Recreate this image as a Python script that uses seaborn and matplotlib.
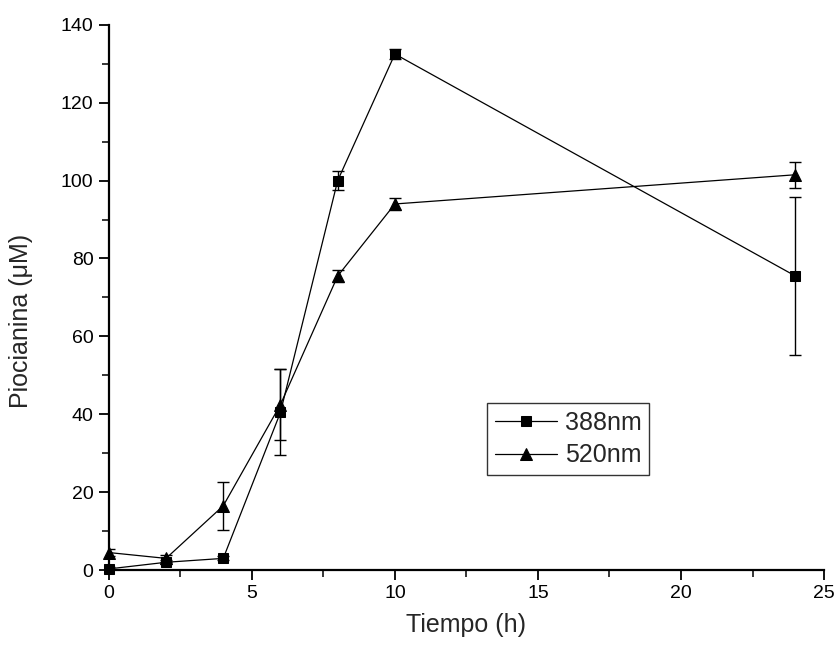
import matplotlib
matplotlib.use("Agg")
import matplotlib.pyplot as plt
import seaborn as sns
import pandas as pd
from matplotlib.ticker import MultipleLocator

time_h = [0, 2, 4, 6, 8, 10, 24]
pio_388 = [0.3, 2.0, 3.0, 40.5, 100.0, 132.5, 75.5]
err_388 = [0.5, 0.5, 0.5, 11.0, 2.5, 1.2, 20.2]
pio_520 = [4.5, 3.0, 16.5, 42.5, 75.5, 94.0, 101.5]
err_520 = [0.8, 0.8, 6.2, 9.0, 1.5, 1.5, 3.3]
series_labels = ["388nm", "520nm"]

df = pd.DataFrame({
    "Tiempo": time_h * 2,
    "Piocianina": pio_388 + pio_520,
    "err": err_388 + err_520,
    "serie": [series_labels[0]] * len(time_h) + [series_labels[1]] * len(time_h),
})

sns.set_theme(style="ticks")
plt.rcParams["font.family"] = ["Liberation Sans", "DejaVu Sans"]

fig = plt.figure(figsize=(8.37, 6.53), dpi=100)
ax = fig.add_axes([0.130, 0.127, 0.8545, 0.835])

markers = {"388nm": "s", "520nm": "^"}
sizes = {"388nm": 7.5, "520nm": 9}
for lab in series_labels:
    sub = df[df["serie"] == lab]
    ax.errorbar(sub["Tiempo"], sub["Piocianina"], yerr=sub["err"], fmt="none",
                ecolor="black", elinewidth=1.0, capsize=4, capthick=1.0, zorder=2)
    sns.lineplot(data=sub, x="Tiempo", y="Piocianina", ax=ax, color="black",
                 linewidth=0.9, marker=markers[lab], markersize=sizes[lab],
                 markeredgecolor="black", markerfacecolor="black",
                 label=lab, zorder=3, clip_on=False)

ax.set_xlim(0, 25)
ax.set_ylim(0, 140)
ax.xaxis.set_major_locator(MultipleLocator(5))
ax.xaxis.set_minor_locator(MultipleLocator(2.5))
ax.yaxis.set_major_locator(MultipleLocator(20))
ax.yaxis.set_minor_locator(MultipleLocator(10))
ax.tick_params(which="major", direction="out", length=7, width=1.3, pad=4,
               labelsize=14, colors="black")
ax.tick_params(which="minor", direction="out", length=5, width=1.3)
for s in ["top", "right"]:
    ax.spines[s].set_visible(False)
for s in ["left", "bottom"]:
    ax.spines[s].set_linewidth(1.6)
    ax.spines[s].set_color("black")

ax.set_xlabel("Tiempo (h)", fontsize=18, labelpad=8)
ax.set_ylabel("Piocianina (μM)", fontsize=18)
ax.yaxis.set_label_coords(-0.106, 0.456)

leg = ax.legend(loc="upper left", bbox_to_anchor=(0.529, 0.306), borderaxespad=0,
                frameon=True, fancybox=False, edgecolor="black", fontsize=18,
                handlelength=2.5, handletextpad=0.3, borderpad=0.3,
                labelspacing=0.35)
leg.get_frame().set_linewidth(1.0)

fig.savefig("out.png", dpi=100, facecolor="white")
